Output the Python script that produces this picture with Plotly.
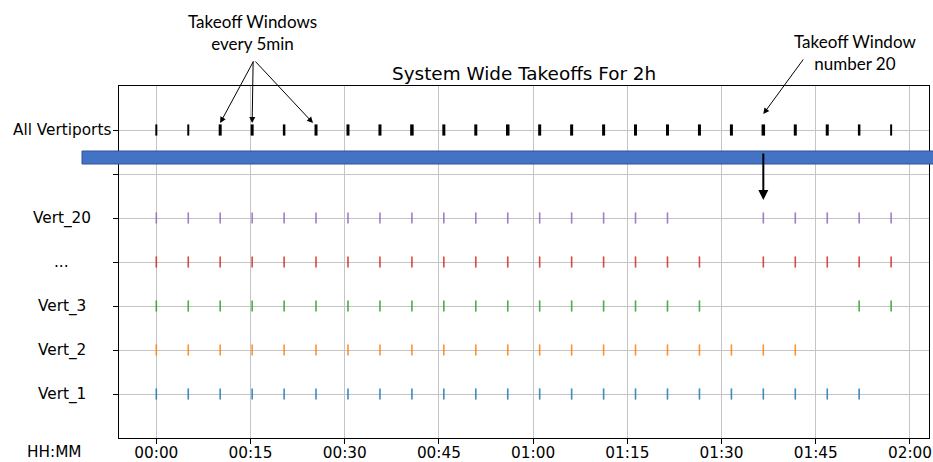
import plotly.graph_objects as go

# ---------------- data ----------------
window_times = [0.0, 5.09, 10.17, 15.26, 20.35, 25.43, 30.52, 35.61, 40.70, 45.78,
                50.87, 55.96, 61.04, 66.13, 71.22, 76.30, 81.39, 86.48, 91.57, 96.65,
                101.74, 106.83, 111.91, 117.0]

vert_1 = [0.0, 5.09, 10.17, 15.26, 20.35, 25.43, 30.52, 35.61, 40.70, 45.78,
          50.87, 55.96, 61.04, 66.13, 71.22, 76.30, 81.39, 86.48, 91.57, 96.65,
          101.74, 106.83, 111.91]
vert_2 = [0.0, 5.09, 10.17, 15.26, 20.35, 25.43, 30.52, 35.61, 40.70, 45.78,
          50.87, 55.96, 61.04, 66.13, 71.22, 76.30, 81.39, 86.48, 91.57, 96.65,
          101.74]
vert_3 = [0.0, 5.09, 10.17, 15.26, 20.35, 25.43, 30.52, 35.61, 40.70, 45.78,
          50.87, 55.96, 61.04, 66.13, 71.22, 76.30, 81.39, 86.48, 111.91, 117.0]
vert_dots = [0.0, 5.09, 10.17, 15.26, 20.35, 25.43, 30.52, 35.61, 40.70, 45.78,
             50.87, 55.96, 61.04, 66.13, 71.22, 76.30, 81.39, 86.48,
             96.65, 101.74, 106.83, 111.91, 117.0]
vert_20 = [0.0, 5.09, 10.17, 15.26, 20.35, 25.43, 30.52, 35.61, 40.70, 45.78,
           50.87, 55.96, 61.04, 66.13, 71.22, 76.30, 81.39,
           96.65, 101.74, 106.83, 111.91, 117.0]

row_labels = ["Vert_1", "Vert_2", "Vert_3", "...", "Vert_20", "", "All Vertiports"]
row_pos = [0, 1, 2, 3, 4, 5, 6]
series = [vert_1, vert_2, vert_3, vert_dots, vert_20]

x_tick_vals = [0, 15, 30, 45, 60, 75, 90, 105, 120]
x_tick_text = ["00:00", "00:15", "00:30", "00:45", "01:00", "01:15", "01:30", "01:45", "02:00"]

highlight_window = 96.65  # takeoff window number 20

# ---------------- styles ----------------
colors = ["#1f77b4", "#ff7f0e", "#2ca02c", "#d62728", "#9467bd"]
agg_widths = [2, 2, 3, 3, 2.5, 3, 3, 3, 3.5, 3, 3, 3.5, 3, 3, 3, 3, 3, 3, 3, 3.5, 3, 3, 2.5, 2]
tick_font = dict(family="DejaVu Sans", size=15.3, color="black")
note_font = dict(family="Lato", size=17, color="black")

W, H = 933, 462
L, R, T, B = 119, 4, 86, 24
pw, ph = W - L - R, H - T - B


def px_x(p):
    return (p - L) / pw


def px_y(p):
    return (H - B - p) / ph


fig = go.Figure()

for s, c, yv in zip(series, colors, row_pos[:5]):
    fig.add_trace(go.Scatter(
        x=s, y=[yv] * len(s), mode="markers",
        marker=dict(symbol="line-ns", size=8, line=dict(color=c, width=1.6)),
        opacity=0.85, showlegend=False, hoverinfo="x"))

fig.add_trace(go.Scatter(
    x=window_times, y=[row_pos[6]] * len(window_times), mode="markers",
    marker=dict(symbol="line-ns", size=8, line=dict(color="black", width=agg_widths)),
    showlegend=False, hoverinfo="x"))

axis_common = dict(showline=True, linecolor="black", linewidth=1.2, mirror=True,
                   ticks="outside", ticklen=5, tickwidth=1.2, tickcolor="black",
                   showgrid=True, gridcolor="#c4c4c4", gridwidth=1.2, zeroline=False,
                   tickfont=tick_font, automargin=False)

fig.update_xaxes(range=[-5.94, 123.03], tickvals=x_tick_vals, ticktext=x_tick_text,
                 ticklabelstandoff=-4, **axis_common)
fig.update_yaxes(range=[-1, 7], tickvals=row_pos, ticktext=[""] * len(row_pos), **axis_common)

annotations = []
for lab, yv in zip(row_labels, row_pos):
    if lab:
        annotations.append(dict(text=lab, xref="paper", yref="y", x=px_x(62), y=yv,
                                xanchor="center", yanchor="middle", showarrow=False,
                                font=tick_font))
annotations.append(dict(text="HH:MM", xref="paper", yref="paper", x=px_x(54.5), y=px_y(452),
                        xanchor="center", yanchor="middle", showarrow=False, font=tick_font))
annotations.append(dict(text="System Wide Takeoffs For 2h", xref="paper", yref="paper",
                        x=0.5, y=px_y(73), xanchor="center", yanchor="middle", showarrow=False,
                        font=dict(family="DejaVu Sans", size=18.4, color="black")))
annotations.append(dict(text="Takeoff Windows<br>every 5min", xref="paper", yref="paper",
                        x=px_x(252.5), y=px_y(32), xanchor="center", yanchor="middle",
                        showarrow=False, font=note_font))
annotations.append(dict(text="Takeoff Window<br>number 20", xref="paper", yref="paper",
                        x=px_x(855), y=px_y(52.5), xanchor="center", yanchor="middle",
                        showarrow=False, font=note_font))

tip_y = 7 - (123 - 86) / 44
for tx, ax in [(10.17, 34), (15.26, 1), (24.95, -59)]:
    annotations.append(dict(text="", x=tx, y=tip_y, xref="x", yref="y", ax=ax, ay=-63,
                            showarrow=True, arrowhead=2, arrowsize=1.2, arrowwidth=1,
                            arrowcolor="black"))
annotations.append(dict(text="", x=highlight_window, y=7 - (114 - 86) / 44, xref="x", yref="y",
                        ax=41, ay=-56, showarrow=True, arrowhead=2, arrowsize=1.2,
                        arrowwidth=1, arrowcolor="black"))
annotations.append(dict(text="", x=highlight_window, y=7 - (200 - 86) / 44, xref="x", yref="y",
                        ax=0, ay=-48, showarrow=True, arrowhead=2, arrowsize=1,
                        arrowwidth=2, arrowcolor="black"))

fig.update_layout(
    width=W, height=H, margin=dict(l=L, r=R, t=T, b=B, autoexpand=False),
    paper_bgcolor="white", plot_bgcolor="white",
    annotations=annotations,
    shapes=[dict(type="rect", xref="paper", yref="paper",
                 x0=px_x(82), x1=px_x(934), y0=px_y(164), y1=px_y(151),
                 fillcolor="#4472C4", line=dict(color="#2F5597", width=1), layer="above")],
)

# remove the browser's default page margin so the figure sits at the window origin
fig.write_html("out.html", config={"displayModeBar": False},
               post_script="document.body.style.margin='0';document.body.style.overflow='hidden';")
